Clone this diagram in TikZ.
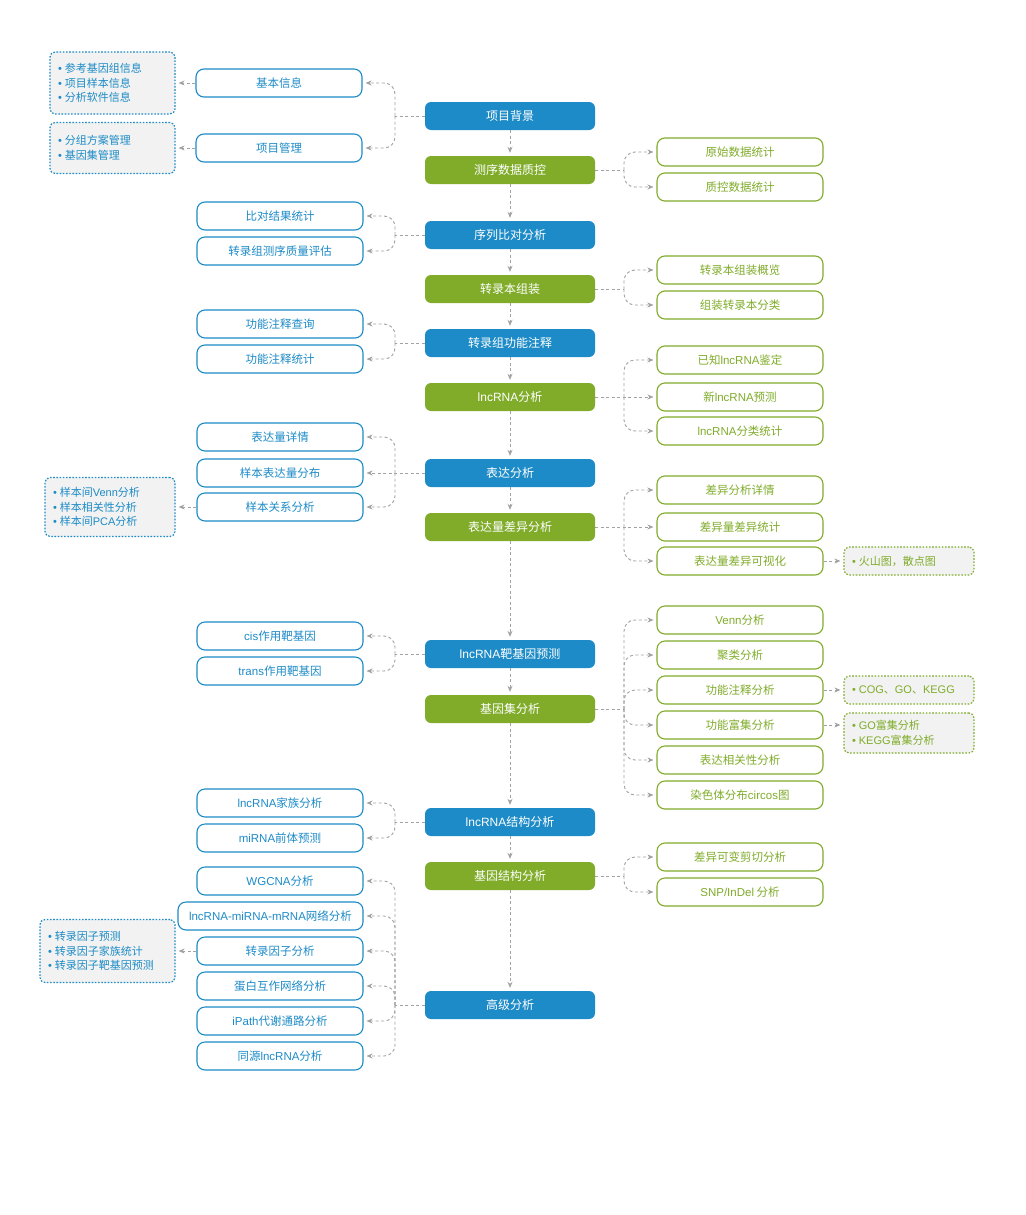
\documentclass[tikz,border=0pt]{standalone}
\usepackage{fontspec}
\setmainfont{Noto Sans CJK SC}
\newfontfamily\latn{Liberation Sans}
\newcommand{\en}[1]{{\latn #1}}
\newcommand{\bul}{{\latn\textbullet}\hspace{3pt}}
\usetikzlibrary{arrows.meta}
\definecolor{cblue}{HTML}{1D8BC7}
\definecolor{cgreen}{HTML}{80AC2A}
\definecolor{cgrey}{HTML}{F1F2F1}
\definecolor{cline}{HTML}{A2A2A2}
\tikzset{
  mainbox/.style={rounded corners=6pt,minimum width=170pt,minimum height=28pt,text=white,font=\fontsize{12}{14}\selectfont},
  mainb/.style={mainbox,fill=cblue},
  maing/.style={mainbox,fill=cgreen},
  subbox/.style={rounded corners=8pt,line width=1.1pt,fill=white,minimum width=166pt,minimum height=28pt,font=\fontsize{11.5}{14}\selectfont},
  subb/.style={subbox,draw=cblue,text=cblue},
  subg/.style={subbox,draw=cgreen,text=cgreen},
  notebox/.style={rounded corners=5pt,line width=1.2pt,dash pattern=on 1.6pt off 1.6pt,fill=cgrey,align=left,inner xsep=8pt,font=\fontsize{11}{14.5}\selectfont},
  noteb/.style={notebox,draw=cblue,text=cblue},
  noteg/.style={notebox,draw=cgreen,text=cgreen},
  dline/.style={draw=cline,line width=0.9pt,dash pattern=on 3pt off 2.5pt},
  arr/.style={dline,rounded corners=11pt,-{Stealth[length=6pt,width=5pt]},shorten >=3pt}
}
\begin{document}
\begin{tikzpicture}[x=1pt,y=-1pt]
    \useasboundingbox[fill=white] (0,0) rectangle (1025,1215);
    % main column
    \node[mainb] (bg) at (510,116) {项目背景};
    \node[maing] (qc) at (510,170) {测序数据质控};
    \node[mainb] (aln) at (510,235) {序列比对分析};
    \node[maing] (asm) at (510,289) {转录本组装};
    \node[mainb] (anno) at (510,343) {转录组功能注释};
    \node[maing] (lnc) at (510,397) {\en{lncRNA}分析};
    \node[mainb] (expr) at (510,473) {表达分析};
    \node[maing] (diff) at (510,527) {表达量差异分析};
    \node[mainb] (target) at (510,654) {\en{lncRNA}靶基因预测};
    \node[maing] (geneset) at (510,709) {基因集分析};
    \node[mainb] (struct) at (510,822) {\en{lncRNA}结构分析};
    \node[maing] (gstruct) at (510,876) {基因结构分析};
    \node[mainb] (adv) at (510,1005) {高级分析};
    % left boxes
    \node[subb] (info) at (279,83) {基本信息};
    \node[subb] (mgmt) at (279,148) {项目管理};
    \node[subb] (alnstat) at (280,216) {比对结果统计};
    \node[subb] (seqqual) at (280,251) {转录组测序质量评估};
    \node[subb] (annoq) at (280,324) {功能注释查询};
    \node[subb] (annostat) at (280,359) {功能注释统计};
    \node[subb] (exprdet) at (280,437) {表达量详情};
    \node[subb] (exprdist) at (280,473) {样本表达量分布};
    \node[subb] (samprel) at (280,507) {样本关系分析};
    \node[subb] (cis) at (280,636) {\en{cis}作用靶基因};
    \node[subb] (trans) at (280,671) {\en{trans}作用靶基因};
    \node[subb] (fam) at (280,803) {\en{lncRNA}家族分析};
    \node[subb] (mirna) at (280,838) {\en{miRNA}前体预测};
    \node[subb] (wgcna) at (280,881) {\en{WGCNA}分析};
    \node[subb,minimum width=185pt] (net) at (270.5,916) {\en{lncRNA-miRNA-mRNA}网络分析};
    \node[subb] (tf) at (280,951) {转录因子分析};
    \node[subb] (ppi) at (280,986) {蛋白互作网络分析};
    \node[subb] (ipath) at (280,1021) {\en{iPath}代谢通路分析};
    \node[subb] (homo) at (280,1056) {同源\en{lncRNA}分析};
    % right boxes
    \node[subg] (raw) at (740,152) {原始数据统计};
    \node[subg] (clean) at (740,187) {质控数据统计};
    \node[subg] (asmov) at (740,270) {转录本组装概览};
    \node[subg] (asmcls) at (740,305) {组装转录本分类};
    \node[subg] (known) at (740,360) {已知\en{lncRNA}鉴定};
    \node[subg] (novel) at (740,397) {新\en{lncRNA}预测};
    \node[subg] (lnccls) at (740,431) {\en{lncRNA}分类统计};
    \node[subg] (diffdet) at (740,490) {差异分析详情};
    \node[subg] (diffstat) at (740,527) {差异量差异统计};
    \node[subg] (diffvis) at (740,561) {表达量差异可视化};
    \node[subg] (venn) at (740,620) {\en{Venn}分析};
    \node[subg] (clust) at (740,655) {聚类分析};
    \node[subg] (funcanno) at (740,690) {功能注释分析};
    \node[subg] (enrich) at (740,725) {功能富集分析};
    \node[subg] (corr) at (740,760) {表达相关性分析};
    \node[subg] (circos) at (740,795) {染色体分布\en{circos}图};
    \node[subg] (splice) at (740,857) {差异可变剪切分析};
    \node[subg] (snp) at (740,892) {\en{SNP/InDel} 分析};
    % notes
    \node[noteb,text width=109pt,minimum height=62pt] (ninfo) at (112.5,83) {\bul 参考基因组信息\\\bul 项目样本信息\\\bul 分析软件信息};
    \node[noteb,text width=109pt,minimum height=51pt] (nmgmt) at (112.5,148) {\bul 分组方案管理\\\bul 基因集管理};
    \node[noteb,text width=114pt,minimum height=59pt] (nsamp) at (110,507) {\bul 样本间\en{Venn}分析\\\bul 样本相关性分析\\\bul 样本间\en{PCA}分析};
    \node[noteb,text width=119pt,minimum height=63pt] (ntf) at (107.5,951) {\bul 转录因子预测\\\bul 转录因子家族统计\\\bul 转录因子靶基因预测};
    \node[noteg,text width=114pt,minimum height=28pt] (nvis) at (909,561) {\bul 火山图，散点图};
    \node[noteg,text width=114pt,minimum height=28pt] (nanno) at (909,690) {\bul \en{COG}、\en{GO}、\en{KEGG}};
    \node[noteg,text width=114pt,minimum height=40pt] (nenrich) at (909,733) {\bul \en{GO}富集分析\\\bul \en{KEGG}富集分析};
    % junctions
    \coordinate (jbg) at (395,116);
    \coordinate (jqc) at (624,170);
    \coordinate (jaln) at (395,235);
    \coordinate (jasm) at (624,289);
    \coordinate (janno) at (395,343);
    \coordinate (jlnc) at (624,397);
    \coordinate (jexpr) at (395,473);
    \coordinate (jdiff) at (624,527);
    \coordinate (jtarget) at (395,654);
    \coordinate (jgeneset) at (624,709);
    \coordinate (jstruct) at (395,822);
    \coordinate (jgstruct) at (624,876);
    \coordinate (jadv) at (395,1005);
    % main flow
    \draw[arr] (bg.south) -- (qc.north);
    \draw[arr] (qc.south) -- (aln.north);
    \draw[arr] (aln.south) -- (asm.north);
    \draw[arr] (asm.south) -- (anno.north);
    \draw[arr] (anno.south) -- (lnc.north);
    \draw[arr] (lnc.south) -- (expr.north);
    \draw[arr] (expr.south) -- (diff.north);
    \draw[arr] (diff.south) -- (target.north);
    \draw[arr] (target.south) -- (geneset.north);
    \draw[arr] (geneset.south) -- (struct.north);
    \draw[arr] (struct.south) -- (gstruct.north);
    \draw[arr] (gstruct.south) -- (adv.north);
    % branches
    \draw[dline] (bg.west) -- (jbg);
    \draw[arr] (jbg) |- (info.east);
    \draw[arr] (jbg) |- (mgmt.east);
    \draw[dline] (qc.east) -- (jqc);
    \draw[arr] (jqc) |- (raw.west);
    \draw[arr] (jqc) |- (clean.west);
    \draw[dline] (aln.west) -- (jaln);
    \draw[arr] (jaln) |- (alnstat.east);
    \draw[arr] (jaln) |- (seqqual.east);
    \draw[dline] (asm.east) -- (jasm);
    \draw[arr] (jasm) |- (asmov.west);
    \draw[arr] (jasm) |- (asmcls.west);
    \draw[dline] (anno.west) -- (janno);
    \draw[arr] (janno) |- (annoq.east);
    \draw[arr] (janno) |- (annostat.east);
    \draw[arr] (lnc.east) -- (novel.west);
    \draw[arr] (jlnc) |- (known.west);
    \draw[arr] (jlnc) |- (lnccls.west);
    \draw[arr] (expr.west) -- (exprdist.east);
    \draw[arr] (jexpr) |- (exprdet.east);
    \draw[arr] (jexpr) |- (samprel.east);
    \draw[arr] (diff.east) -- (diffstat.west);
    \draw[arr] (jdiff) |- (diffdet.west);
    \draw[arr] (jdiff) |- (diffvis.west);
    \draw[dline] (target.west) -- (jtarget);
    \draw[arr] (jtarget) |- (cis.east);
    \draw[arr] (jtarget) |- (trans.east);
    \draw[dline] (geneset.east) -- (jgeneset);
    \draw[arr] (jgeneset) |- (venn.west);
    \draw[arr] (jgeneset) |- (clust.west);
    \draw[arr] (jgeneset) |- (funcanno.west);
    \draw[arr] (jgeneset) |- (enrich.west);
    \draw[arr] (jgeneset) |- (corr.west);
    \draw[arr] (jgeneset) |- (circos.west);
    \draw[dline] (struct.west) -- (jstruct);
    \draw[arr] (jstruct) |- (fam.east);
    \draw[arr] (jstruct) |- (mirna.east);
    \draw[dline] (gstruct.east) -- (jgstruct);
    \draw[arr] (jgstruct) |- (splice.west);
    \draw[arr] (jgstruct) |- (snp.west);
    \draw[dline] (adv.west) -- (jadv);
    \draw[arr] (jadv) |- (wgcna.east);
    \draw[arr] (jadv) |- (net.east);
    \draw[arr] (jadv) |- (tf.east);
    \draw[arr] (jadv) |- (ppi.east);
    \draw[arr] (jadv) |- (ipath.east);
    \draw[arr] (jadv) |- (homo.east);
    % notes
    \draw[arr] (info.west) -- (ninfo.east);
    \draw[arr] (mgmt.west) -- (nmgmt.east);
    \draw[arr] (samprel.west) -- (nsamp.east);
    \draw[arr] (tf.west) -- (ntf.east);
    \draw[arr] (diffvis.east) -- (nvis.west);
    \draw[arr] (funcanno.east) -- (nanno.west);
    \draw[arr] (enrich.east) -- (enrich.east -| nenrich.west);
\end{tikzpicture}
\end{document}
